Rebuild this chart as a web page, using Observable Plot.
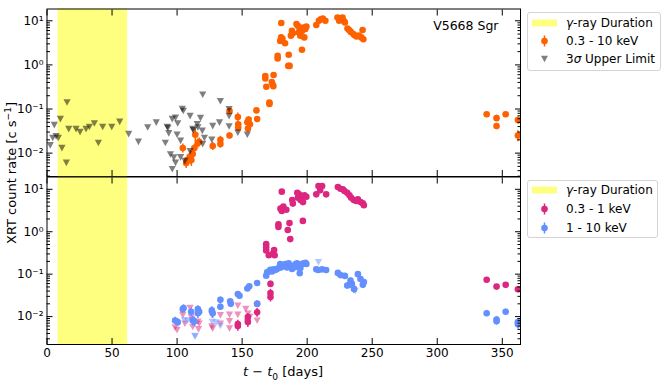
<!DOCTYPE html>
<html><head><meta charset="utf-8">
<script src="https://cdn.jsdelivr.net/npm/d3@7"></script>
<script src="https://cdn.jsdelivr.net/npm/@observablehq/plot@0.6"></script>
<style>
body{margin:0;background:#fff;font-family:"DejaVu Sans",sans-serif;}
#wrap{position:relative;width:665px;height:384px;overflow:hidden;background:#fff;}
.panel{position:absolute;left:0;}
.legend{position:absolute;border:1px solid #d4d4d4;border-radius:3px;background:rgba(255,255,255,0.8);font-size:12px;color:#000;box-sizing:border-box;}
.row{position:absolute;left:0;height:18px;width:100%;}
.row svg{position:absolute;left:0;top:0;}
.row span{position:absolute;left:38px;top:0;line-height:18px;white-space:nowrap;}
.lab{position:absolute;font-size:12.5px;color:#000;text-align:center;white-space:nowrap;line-height:16px;}
</style></head><body><div id="wrap"></div>
<script>
// ---- data ----
const gammaBand = [{start: 8.5, end: 62}];
const orange = "#FE6100", magenta = "#DC267F", blue = "#648FFF";
// top panel: 0.3 - 10 keV detections [day, rate, err]
const broadDet = [
 [104.4,0.013,0.003],[107,0.006,0.0015],[107.8,0.007,0.002],[110.2,0.0085,0.003],[111,0.007,0.002],
 [112,0.0095,0.003],[113.3,0.013,0.003],[114,0.026,0.009],[116,0.017,0.004],[117,0.018,0.004],
 [127.4,0.0145,0.003],[133.3,0.020,0.004],[133.3,0.016,0.003],[140.3,0.09,0.012],[140.3,0.025,0.004],
 [146.7,0.066,0.015],[147,0.045,0.008],[147,0.038,0.007],[154,0.05,0.008],[155,0.058,0.008],
 [156,0.045,0.007],[154.5,0.036,0.006],[161,0.093,0.01],[161.5,0.059,0.008],
 [167.8,0.56,0.04],[167.8,0.49,0.04],[168.6,0.32,0.03],[171,0.14,0.015],[171,0.13,0.015],
 [172.8,0.41,0.03],[173.5,0.36,0.03],[174,0.33,0.03],[174.2,0.59,0.04],[177.3,1.6,0.1],[177.3,1.4,0.1],
 [179.3,3.5,0.2],[180,4.2,0.2],[180.1,8.9,0.4],[181,3.9,0.2],[183,3.1,0.2],[185.5,0.95,0.06],
 [186.5,0.95,0.06],[185.8,1.7,0.1],[188.3,5.9,0.3],[187.5,4.6,0.3],[189,5.2,0.3],
 [191.8,8.4,0.4],[192.8,7.7,0.4],[194.3,6.5,0.3],[193.5,5.4,0.3],[194.7,4.6,0.3],[196,5.9,0.3],
 [196.8,7.0,0.3],[198.6,6.5,0.3],[199.4,7.4,0.3],[197.8,4.2,0.2],[196,2.2,0.12],
 [207,8.0,0.4],[209,10,0.5],[210.5,10.8,0.5],[212,11.2,0.5],[214,10,0.5],
 [223.3,11.9,0.5],[224.6,10,0.5],[227.2,11.9,0.5],[228,10,0.5],[229,9.2,0.4],[231,6.7,0.3],
 [232.2,6.2,0.3],[233.5,5.6,0.3],[235.5,5.0,0.25],[236.5,4.7,0.25],[238,4.4,0.25],[239.8,4.6,0.25],
 [241.6,4.2,0.2],[242.6,6.2,0.3],[243.2,3.8,0.2],
 [338,0.076,0.007],[345.6,0.062,0.01],[345.6,0.041,0.006],[352.6,0.076,0.007],[362,0.056,0.01],[362,0.025,0.007]
];
// top panel: 3 sigma upper limits [day, rate]
const broadUL = [
 [2.5,0.015],[4.4,0.022],[5.6,0.043],[7,0.024],[8.7,0.022],[10.3,0.059],[11.5,0.013],[14.9,0.006],
 [15.4,0.14],[16.7,0.035],[22.3,0.035],[25.4,0.030],[30,0.035],[32.6,0.039],[36.4,0.047],[39.5,0.017],
 [42.8,0.039],[49.8,0.039],[55.9,0.051],[62.8,0.027],[70.3,0.018],[77.4,0.038],[84,0.049],
 [91,0.017],[92.4,0.039],[93,0.037],[93.6,0.028],[94.9,0.0093],[96.3,0.059],[96.3,0.0043],[97.5,0.0079],
 [98.8,0.063],[98.8,0.006],[100,0.026],[100.5,0.047],[102.7,0.019],[102.7,0.008],[104,0.1],[104.8,0.09],
 [106,0.0066],[110,0.069],[110,0.011],[112,0.035],[112.5,0.033],[115.5,0.045],[116,0.038],[118,0.062],
 [119.4,0.032],[119.7,0.21],[119.7,0.016],[121,0.022],[126.7,0.020],[127.4,0.041],[132.6,0.049],
 [133.3,0.15],[140,0.098],[140,0.069],[140,0.04],[146.7,0.029],[154,0.026]
];
// bottom panel: 0.3 - 1 keV detections [day, rate, err]
const softDet = [
 [146.7,0.0067,0.0015],[146.7,0.006,0.0015],[154.4,0.0098,0.002],[154.4,0.0075,0.002],
 [161.5,0.020,0.003],[161.5,0.0126,0.003],[168.5,0.51,0.04],[168.5,0.43,0.04],[168.5,0.36,0.03],
 [170.5,0.28,0.03],[171.8,0.059,0.01],[171.8,0.036,0.008],[171.8,0.029,0.007],[173.5,0.3,0.03],
 [174.6,0.37,0.03],[175,0.28,0.03],[177.9,1.5,0.1],[177.9,1.3,0.1],[179.5,3.5,0.2],[180.5,3.1,0.2],
 [180.5,8.8,0.4],[181.7,3.9,0.2],[184,3.3,0.2],[185.1,1.1,0.08],[186.4,1.6,0.1],[187,0.67,0.05],
 [188.5,5.6,0.3],[189,4.6,0.3],[192.4,8.3,0.4],[193.7,7.6,0.4],[192.9,6.3,0.3],[194.4,6.7,0.3],
 [194.9,5.6,0.3],[196.1,6.9,0.3],[196.8,5.0,0.25],[197.9,7.2,0.3],[199.4,6.7,0.3],[196.7,1.8,0.1],
 [207,7.6,0.3],[208.7,12,0.5],[210,9.5,0.4],[211.5,12,0.5],[214.6,7.6,0.3],
 [223.6,11.3,0.5],[225.6,10.3,0.5],[227.4,10,0.5],[228.7,9.1,0.4],[230.8,8.3,0.4],[232.5,7.2,0.3],
 [233.8,6.3,0.3],[235.8,5.6,0.3],[237.7,5.3,0.25],[239,5.8,0.25],[241,5.0,0.25],[242.8,4.7,0.2],[243.6,4.2,0.2],
 [338,0.074,0.006],[345.6,0.051,0.005],[352.6,0.056,0.005],[362,0.044,0.005]
];
// bottom panel: 0.3 - 1 keV upper limits [day, rate]
const softUL = [
 [98.5,0.0055],[100,0.0048],[104.4,0.0107],[106,0.0068],[110,0.016],[111,0.0095],[111.5,0.008],
 [112,0.0057],[116,0.0075],[116.5,0.005],[117,0.0068],[126.7,0.011],[126.7,0.0058],[127.4,0.0052],
 [133.3,0.0107],[133.3,0.0068],[140.3,0.011],[140.3,0.0077],[140.3,0.0052],[146.7,0.018],[146.7,0.011],
 [152.8,0.015],[154.6,0.0117],[156,0.0098],[154,0.0074],[161.5,0.008]
];
// bottom panel: 1 - 10 keV detections [day, rate, err]
const hardDet = [
 [98.5,0.0081,0.0015],[100.5,0.0074,0.0015],[104.4,0.015,0.003],[105,0.016,0.003],[110.8,0.013,0.003],
 [112,0.0081,0.002],[113.3,0.0078,0.002],[116,0.015,0.003],[116,0.012,0.003],[117,0.013,0.003],
 [126.7,0.014,0.003],[127.4,0.012,0.003],[133.3,0.025,0.004],[133.3,0.017,0.003],[140.8,0.023,0.003],
 [141.3,0.020,0.003],[146.7,0.034,0.004],[148,0.031,0.004],[154,0.046,0.005],[155.5,0.052,0.005],
 [161.5,0.062,0.006],[161.5,0.020,0.003],[168.5,0.092,0.01],[169.2,0.11,0.01],[170.4,0.116,0.01],
 [171.7,0.126,0.01],[173,0.116,0.01],[174.2,0.13,0.01],[175.5,0.126,0.01],[176.8,0.132,0.01],
 [178,0.14,0.01],[179.3,0.174,0.012],[179.8,0.144,0.01],[181.4,0.158,0.01],[183.2,0.174,0.012],
 [184.5,0.144,0.01],[185.8,0.18,0.012],[187.1,0.158,0.01],[188.4,0.132,0.01],[189.6,0.144,0.01],
 [190.9,0.17,0.012],[192.2,0.18,0.012],[193.5,0.144,0.01],[194.3,0.105,0.01],[194.8,0.14,0.01],
 [196.1,0.174,0.012],[197.4,0.18,0.012],[198.7,0.186,0.012],[199.4,0.174,0.012],
 [207,0.13,0.01],[208.7,0.125,0.01],[211.5,0.13,0.01],[214.6,0.125,0.01],
 [223.6,0.107,0.01],[225.6,0.095,0.01],[229,0.091,0.01],[230.8,0.054,0.01],[232.5,0.056,0.01],
 [233.3,0.071,0.01],[234.4,0.059,0.01],[236,0.045,0.01],[239,0.1,0.01],[241,0.077,0.01],
 [242.8,0.056,0.01],[243.6,0.065,0.01],
 [338,0.012,0.002],[345.6,0.0085,0.0015],[345.6,0.0078,0.0015],[352.6,0.013,0.002],[362,0.0074,0.0015],[362,0.0066,0.0015]
];
// bottom panel: 1 - 10 keV upper limits [day, rate]
const hardUL = [
 [105.7,0.0081],[108,0.008],[113.5,0.0035],[114,0.0034],[127,0.0074],[130,0.0072],[133.3,0.006],
 [208.7,0.19],[237,0.04],[362,0.0062]
];
const xTicks = [0,50,100,150,200,250,300,350];
const yMajor = [0.01,0.1,1,10];
const sourceName = ["V5668 Sgr"];
const legendTop = ["γ-ray Duration","0.3 - 10 keV","3σ Upper Limit"];
const legendBottom = ["γ-ray Duration","0.3 - 1 keV","1 - 10 keV"];

// ---- helpers ----
const det = a => a.map(([d,v,e]) => ({d, v, e}));
const ul = a => a.map(([d,v]) => ({d, v}));
const supMap = {"-":"⁻","0":"⁰","1":"¹","2":"²","3":"³"};
const fmtPow = v => "10" + String(Math.round(Math.log10(v))).split("").map(c => supMap[c]).join("");
const triDown = {draw(ctx, size){ const r = Math.sqrt(size/Math.PI); const h = r*0.92;
  ctx.moveTo(-r,-h); ctx.lineTo(r,-h); ctx.lineTo(0,h); ctx.closePath(); }};
const minorIn = dom => { const t=[]; for (let k=-4;k<=1;k++) for (let m=2;m<=9;m++){ const v=m*10**k; if (v>dom[0] && v<dom[1]) t.push(v);} return t; };
const XDOM = [0, 364];
const plotStyle = {fontFamily:"DejaVu Sans", fontSize:"12px", color:"#000", background:"transparent", overflow:"visible"};

function frameAxes(ydom, showX){
  const minor = minorIn(ydom);
  return [
    Plot.frame({stroke:"#000", strokeWidth:1}),
    Plot.axisY({ticks: yMajor, anchor:"left", tickSize:-6, fill:"none", label:null}),
    Plot.axisY({ticks: minor, anchor:"left", tickSize:-3.5, fill:"none", label:null}),
    Plot.axisY({ticks: yMajor, anchor:"right", tickSize:-6, fill:"none", label:null}),
    Plot.axisY({ticks: minor, anchor:"right", tickSize:-3.5, fill:"none", label:null}),
    Plot.axisY({ticks: yMajor, anchor:"left", tickSize:0, tickPadding:3.5, tickFormat: fmtPow, label:null}),
    Plot.axisX({ticks: xTicks, anchor:"bottom", tickSize:-6, fill:"none", label:null}),
    Plot.axisX({ticks: xTicks, anchor:"top", tickSize:-6, fill:"none", label:null}),
    showX ? Plot.axisX({ticks: xTicks, anchor:"bottom", tickSize:0, tickPadding:3.5, tickFormat: d => String(d), label:null}) : null
  ];
}

function errMarks(data, color){
  return [
    Plot.ruleX(data, {x:"d", y1: d => d.v - d.e, y2: d => d.v + d.e, stroke: color, strokeWidth: 1.5, clip: true}),
    Plot.dot(data, {x:"d", y:"v", r: 3.3, fill: color, stroke: "none", clip: true})
  ];
}

// ---- top panel ----
const topDom = [0.00295, 18.5];
const topPlot = Plot.plot({
  width: 665, height: 176, marginLeft: 46.5, marginRight: 145, marginTop: 8.5, marginBottom: 0,
  style: plotStyle,
  x: {domain: XDOM, axis: null},
  y: {type: "log", domain: topDom, axis: null},
  marks: [
    Plot.rect(gammaBand, {x1:"start", x2:"end", fill:"#ffff00", fillOpacity:0.5}),
    ...errMarks(det(broadDet), orange),
    Plot.dot(ul(broadUL), {x:"d", y:"v", symbol: triDown, r: 3.6, fill:"#000", fillOpacity:0.5, stroke:"none", clip:true}),
    Plot.text(sourceName, {frameAnchor:"top-right", textAnchor:"end", lineAnchor:"top", dx:-22, dy:12, fontSize:12.5, fill:"#000"}),
    ...frameAxes(topDom, false)
  ]
});

// ---- bottom panel ----
const botDom = [0.0022, 19.5];
const bottomPlot = Plot.plot({
  width: 665, height: 208, marginLeft: 46.5, marginRight: 145, marginTop: 0.5, marginBottom: 40,
  style: plotStyle,
  x: {domain: XDOM, axis: null},
  y: {type: "log", domain: botDom, axis: null},
  marks: [
    Plot.rect(gammaBand, {x1:"start", x2:"end", fill:"#ffff00", fillOpacity:0.5}),
    ...errMarks(det(softDet), magenta),
    Plot.dot(ul(softUL), {x:"d", y:"v", symbol: triDown, r: 3.6, fill: magenta, fillOpacity:0.5, stroke:"none", clip:true}),
    ...errMarks(det(hardDet), blue),
    Plot.dot(ul(hardUL), {x:"d", y:"v", symbol: triDown, r: 3.6, fill: blue, fillOpacity:0.5, stroke:"none", clip:true}),
    ...frameAxes(botDom, true)
  ]
});

const wrap = document.getElementById("wrap");
function place(node, topPx){ const d = document.createElement("div"); d.className = "panel"; d.style.top = topPx + "px"; d.appendChild(node); wrap.appendChild(d); }
place(topPlot, 0);
place(bottomPlot, 176);

// ---- legends ----
function handle(kind, color){
  if (kind === "patch") return `<svg width="34" height="18"><rect x="4" y="5.5" width="25" height="7" fill="#ffff00" fill-opacity="0.5"/></svg>`;
  if (kind === "err") return `<svg width="34" height="18"><line x1="16.5" x2="16.5" y1="3.5" y2="14.5" stroke="${color}" stroke-width="1.5"/><circle cx="16.5" cy="9" r="3.3" fill="${color}"/></svg>`;
  return `<svg width="34" height="18"><path d="M13,5.7 L20,5.7 L16.5,12.3 Z" fill="#000" fill-opacity="0.5"/></svg>`;
}
function legend(left, topPx, w, h, rows, labels){
  const box = document.createElement("div");
  box.className = "legend";
  Object.assign(box.style, {left: left+"px", top: topPx+"px", width: w+"px", height: h+"px"});
  box.innerHTML = rows.map((r,i) => `<div class="row" style="top:${r.y - 9}px">${handle(r.kind, r.color)}<span>${labels[i]}</span></div>`).join("");
  wrap.appendChild(box);
}
const ital = s => s.replace("γ", "<i>γ</i>").replace("σ", "<i>σ</i>");
legend(527, 12, 134, 59, [{y:9.5, kind:"patch"}, {y:28, kind:"err", color: orange}, {y:46.3, kind:"tri"}], legendTop.map(ital));
legend(527, 180, 131, 58, [{y:9.3, kind:"patch"}, {y:28.3, kind:"err", color: magenta}, {y:46.7, kind:"err", color: blue}], legendBottom.map(ital));

// ---- axis labels ----
const yl = document.createElement("div");
yl.className = "lab";
Object.assign(yl.style, {left: (12 - 100) + "px", top: (173 - 8) + "px", width: "200px", transform: "rotate(-90deg)", fontSize: "13px"});
yl.innerHTML = 'XRT count rate [c s<sup style="font-size:70%;vertical-align:0.5em;line-height:0">−1</sup>]';
wrap.appendChild(yl);
const xl = document.createElement("div");
xl.className = "lab";
Object.assign(xl.style, {left: (283 - 100) + "px", top: (372 - 8) + "px", width: "200px", fontSize: "13px"});
xl.innerHTML = '<i>t</i> − <i>t</i><sub style="font-size:70%;line-height:0">0</sub> [days]';
wrap.appendChild(xl);
</script></body></html>
